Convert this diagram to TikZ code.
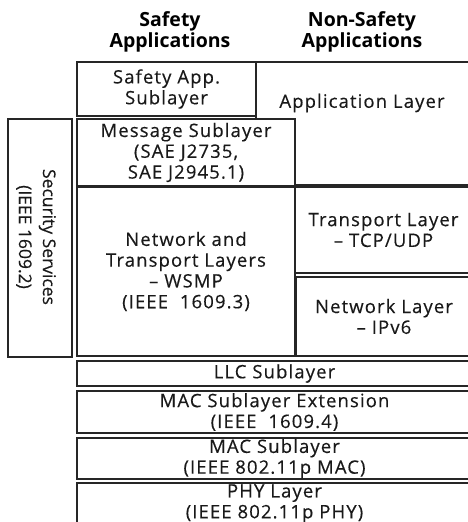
\documentclass[tikz,border=0pt]{standalone}
\usepackage{fontspec}
\setmainfont{Open Sans}[LetterSpace=6, FakeBold=0.35]
\newfontfamily\hdrfont{Open Sans}
\newfontfamily\secfont{Open Sans}[FakeBold=0.35]
\begin{document}
\begin{tikzpicture}[x=1pt,y=-1pt,
  box/.style={draw=black!85, line width=1.3pt, inner sep=0pt, align=center, anchor=center},
  txt/.style={inner sep=0pt, align=center, font=\fontsize{18.5}{20.8}\selectfont, text=black!90},
  sectxt/.style={inner sep=0pt, align=center, font=\secfont\fontsize{17.5}{24}\selectfont, text=black!90},
  hdr/.style={inner sep=0pt, align=center, font=\hdrfont\bfseries\fontsize{19.5}{21.5}\selectfont, text=black}]
\useasboundingbox (0,0) rectangle (468,522);
\clip (0,0) rectangle (468,522);
% headers
\node[hdr] (hs) at (170,32) {Safety\\Applications};
\node[hdr] (hn) at (362,32) {Non-Safety\\Applications};
% application layer (behind)
\node[box, minimum width=216pt, minimum height=123pt] (app) at (364,123.5) {};
\node[txt] (appt) at (362,103) {Application Layer};
% safety app sublayer
\node[box, txt, minimum width=179pt, minimum height=54pt] (saf) at (166.5,89) {Safety App.\\Sublayer};
% message sublayer
\node[box, txt, fill=white, minimum width=218pt, minimum height=67pt] (msg) at (186,152.5) {Message Sublayer\\(SAE J2735,\\SAE J2945.1)};
% security
\node[box, minimum width=64pt, minimum height=238pt] (sec) at (40,238) {};
\node[sectxt, rotate=-90] (sect) at (36,237) {Security Services\\(IEEE 1609.2)};
% network and transport
\node[box, txt, minimum width=218pt, minimum height=169pt] (nt) at (186,271.5) {Network and\\Transport Layers\\-- WSMP\\(IEEE\ \ 1609.3)};
\node[box, txt, minimum width=177pt, minimum height=86pt] (tl) at (383.5,230) {Transport Layer\\-- TCP/UDP};
\node[box, txt, minimum width=176pt, minimum height=79pt] (nl) at (384,316.5) {Network Layer\\-- IPv6};
% lower layers
\node[box, txt, minimum width=395pt, minimum height=25pt] (llc) at (274.5,373.5) {LLC Sublayer};
\node[box, txt, minimum width=395pt, minimum height=42pt] (macx) at (274.5,412) {MAC Sublayer Extension\\(IEEE\ \ 1609.4)};
\node[box, txt, minimum width=395pt, minimum height=41pt] (mac) at (274.5,458.5) {MAC Sublayer\\(IEEE 802.11p MAC)};
\node[box, txt, minimum width=395pt, minimum height=41pt] (phy) at (274.5,503.5) {PHY Layer\\(IEEE 802.11p PHY)};
\end{tikzpicture}
\end{document}
